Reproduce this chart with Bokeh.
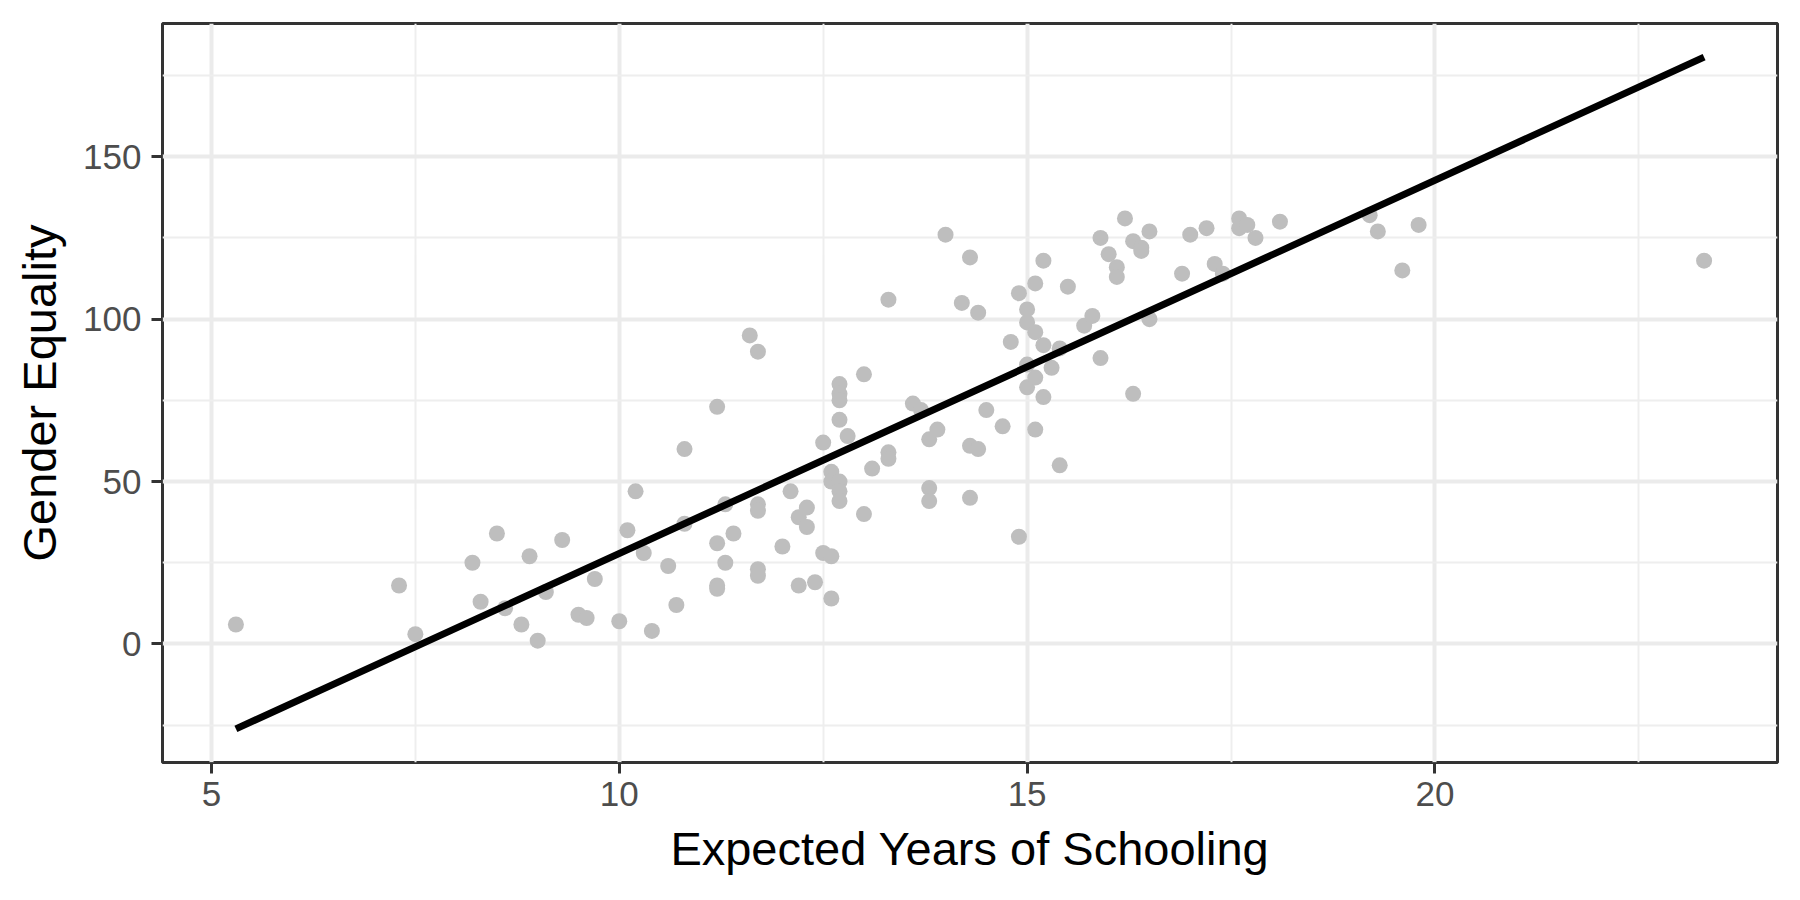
import numpy as np
from bokeh.plotting import figure
from bokeh.models import Range1d, FixedTicker
from bokeh.embed import file_html
from bokeh.resources import INLINE

# Expected years of schooling (x) and gender equality (y)
schooling = [
    5.3, 7.3, 7.5, 8.2, 8.3, 8.5, 8.6, 8.8, 8.9, 9.0,
    9.1, 9.3, 9.5, 9.6, 9.7, 10.0, 10.1, 10.2, 10.3, 10.4,
    10.6, 10.7, 10.8, 10.8, 11.2, 11.2, 11.2, 11.2, 11.3, 11.3,
    11.4, 11.6, 11.7, 11.7, 11.7, 11.7, 11.7, 12.0, 12.1, 12.2,
    12.2, 12.3, 12.3, 12.4, 12.5, 12.5, 12.6, 12.6, 12.6, 12.6,
    12.7, 12.7, 12.7, 12.7, 12.7, 12.7, 12.7, 12.8, 13.0, 13.0,
    13.1, 13.3, 13.3, 13.3, 13.6, 13.7, 13.8, 13.9, 13.8, 13.8,
    14.0, 14.2, 14.3, 14.3, 14.4, 14.3, 14.4, 14.5, 14.7, 14.8,
    14.9, 14.9, 15.0, 15.0, 15.0, 15.0, 15.1, 15.1, 15.1, 15.1,
    15.2, 15.2, 15.2, 15.3, 15.4, 15.4, 15.5, 15.7, 15.8, 15.9,
    15.9, 16.0, 16.1, 16.1, 16.2, 16.3, 16.3, 16.4, 16.4, 16.5,
    16.5, 16.9, 17.0, 17.2, 17.3, 17.4, 17.6, 17.6, 17.7, 17.8,
    18.1, 19.2, 19.3, 19.6, 19.8, 23.3,
]
equality = [
    6, 18, 3, 25, 13, 34, 11, 6, 27, 1,
    16, 32, 9, 8, 20, 7, 35, 47, 28, 4,
    24, 12, 60, 37, 73, 31, 18, 17, 43, 25,
    34, 95, 90, 43, 41, 23, 21, 30, 47, 39,
    18, 42, 36, 19, 62, 28, 27, 14, 53, 50,
    80, 77, 75, 69, 50, 47, 44, 64, 83, 40,
    54, 106, 59, 57, 74, 72, 63, 66, 48, 44,
    126, 105, 119, 61, 60, 45, 102, 72, 67, 93,
    108, 33, 103, 99, 86, 79, 111, 96, 82, 66,
    118, 92, 76, 85, 91, 55, 110, 98, 101, 88,
    125, 120, 116, 113, 131, 77, 124, 122, 121, 127,
    100, 114, 126, 128, 117, 114, 131, 128, 129, 125,
    130, 132, 127, 115, 129, 118,
]
x_ticks = [5, 10, 15, 20]
x_minor = [7.5, 12.5, 17.5, 22.5]
y_ticks = [0, 50, 100, 150]
y_minor = [-25, 25, 75, 125, 175]

x = np.array(schooling, dtype=float)
y = np.array(equality, dtype=float)
slope, intercept = np.polyfit(x, y, 1)
x_line = [float(x.min()), float(x.max())]
y_line = [float(intercept + slope * v) for v in x_line]

xlo, xhi = x_line
xpad = 0.05 * (xhi - xlo)
ylo = min(float(y.min()), min(y_line))
yhi = max(float(y.max()), max(y_line))
ypad = 0.05 * (yhi - ylo)

p = figure(width=1800, height=900, output_backend="svg", toolbar_location=None,
           x_range=Range1d(xlo - xpad, xhi + xpad),
           y_range=Range1d(ylo - ypad, yhi + ypad),
           min_border_left=162, min_border_right=23,
           min_border_top=23, min_border_bottom=138)
p.background_fill_color = "white"
p.border_fill_color = "white"
p.outline_line_color = "#333333"
p.outline_line_width = 3

xt = FixedTicker(ticks=x_ticks, minor_ticks=x_minor)
yt = FixedTicker(ticks=y_ticks, minor_ticks=y_minor)
p.xaxis.ticker = xt
p.yaxis.ticker = yt
p.xgrid.ticker = xt
p.ygrid.ticker = yt

for g in (p.xgrid, p.ygrid):
    g.grid_line_color = "#EBEBEB"
    g.grid_line_width = 4
    g.minor_grid_line_color = "#EEEEEE"
    g.minor_grid_line_width = 2

for ax in (p.xaxis, p.yaxis):
    ax.axis_line_color = None
    ax.major_tick_line_color = "#333333"
    ax.major_tick_line_width = 3
    ax.major_tick_in = 0
    ax.major_tick_out = 11
    ax.minor_tick_line_color = None
    ax.major_label_text_font = "Liberation Sans"
    ax.major_label_text_font_size = "35px"
    ax.major_label_text_color = "#4D4D4D"
    ax.axis_label_text_font = "Liberation Sans"
    ax.axis_label_text_font_size = "47px"
    ax.axis_label_text_font_style = "normal"
    ax.axis_label_text_color = "black"

p.xaxis.axis_label = "Expected Years of Schooling"
p.yaxis.axis_label = "Gender Equality"
p.xaxis.major_label_standoff = 8
p.xaxis.axis_label_standoff = 13
p.yaxis.major_label_standoff = 10
p.yaxis.axis_label_standoff = 14

p.scatter(schooling, equality, size=16, fill_color="#BEBEBE", line_color=None)
p.line(x_line, y_line, line_color="black", line_width=7)

open("out.html", "w").write(file_html(p, INLINE))
